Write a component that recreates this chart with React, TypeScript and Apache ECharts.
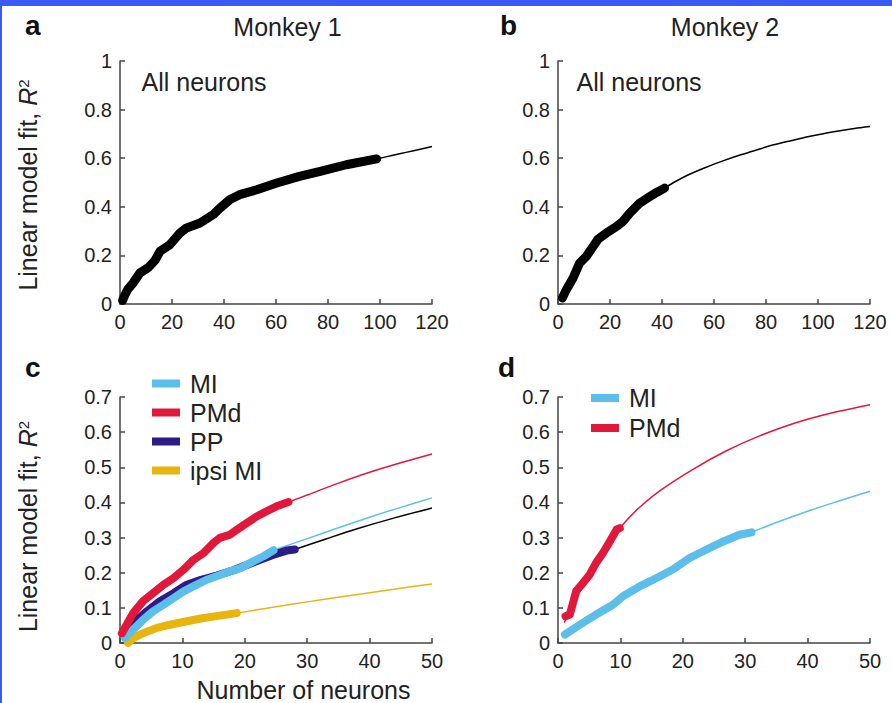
import React, { useEffect, useRef } from 'react';
import * as echarts from 'echarts';

const FONT = '"Liberation Sans", Arial, Helvetica, sans-serif';
const TEXT = '#222222';
const AXIS = '#444444';
const BLUE_FRAME = '#395af5';

const C_MI = '#5cbfeb';
const C_PMD = '#e2183b';
const C_PP = '#2f1b86';
const C_IPSI = '#e8b50e';
const C_BLACK = '#000000';

// Panel a (Monkey 1, all neurons)
const aData: number[][] = [
  [1, 0.015], [2, 0.04], [3, 0.06], [5, 0.086], [7.7, 0.128], [10.9, 0.15], [13.5, 0.18],
  [15.4, 0.217], [19.2, 0.244], [23, 0.292], [25.6, 0.313], [30.8, 0.333], [35.9, 0.368],
  [38.5, 0.395], [42.3, 0.43], [46, 0.45], [52.6, 0.47], [60.3, 0.498], [69, 0.525],
  [77, 0.546], [87, 0.573], [98.7, 0.597],
];
const aFit: number[][] = [[98.7, 0.597], [105, 0.612], [110, 0.624], [115, 0.636], [120, 0.648]];

// Panel b (Monkey 2, all neurons)
const bData: number[][] = [
  [1.7, 0.025], [3.2, 0.059], [5.8, 0.107], [8.3, 0.168], [10.9, 0.196], [13.5, 0.237],
  [15.4, 0.267], [18.6, 0.292], [22.5, 0.319], [25, 0.34], [27.6, 0.374], [31.4, 0.415],
  [35.3, 0.442], [37.9, 0.459], [41, 0.477],
];
const bFit: number[][] = [
  [41, 0.477], [45, 0.503], [50, 0.531], [57, 0.563], [64, 0.591], [70, 0.613], [77, 0.636],
  [83, 0.655], [90, 0.673], [96, 0.688], [102, 0.701], [108.5, 0.713], [114, 0.722], [120, 0.73],
];

// Panel c (Monkey 1, by area)
const cPMd: number[][] = [
  [0.3, 0.028], [1, 0.05], [2.1, 0.085], [3.7, 0.119], [5.3, 0.142], [7, 0.166], [8.6, 0.185],
  [10.2, 0.209], [11.8, 0.237], [13.4, 0.256], [15, 0.285], [16, 0.299], [17.6, 0.308],
  [18.7, 0.322], [20.3, 0.341], [21.9, 0.36], [23.5, 0.375], [25.1, 0.389], [27, 0.401],
];
const cPMdFit: number[][] = [[27, 0.401], [30, 0.421], [35, 0.455], [40, 0.486], [45, 0.513], [50, 0.538]];
const cMI: number[][] = [
  [0.8, 0.014], [2.1, 0.038], [3.7, 0.066], [5.3, 0.09], [7, 0.109], [8.6, 0.128], [10.2, 0.147],
  [12.3, 0.166], [13.9, 0.18], [15.5, 0.19], [17.6, 0.204], [19.3, 0.213], [20.9, 0.228],
  [23, 0.247], [24.6, 0.264],
];
const cMIFit: number[][] = [[24.6, 0.264], [30, 0.297], [35, 0.328], [40, 0.358], [45, 0.386], [50, 0.413]];
const cPP: number[][] = [
  [0.5, 0.028], [2.1, 0.057], [4.3, 0.09], [6.4, 0.119], [8.6, 0.142], [10.7, 0.166], [13, 0.18],
  [15.5, 0.192], [18.2, 0.207], [21.4, 0.23], [24.6, 0.251], [26.7, 0.263], [28, 0.266],
];
const cPPFit: number[][] = [[28, 0.266], [33, 0.296], [38, 0.325], [44, 0.356], [50, 0.384]];
const cIpsi: number[][] = [
  [1.3, 0.0], [2.1, 0.014], [3.7, 0.028], [5.9, 0.043], [8, 0.052], [10.7, 0.062],
  [13.4, 0.071], [16, 0.078], [18.7, 0.085],
];
const cIpsiFit: number[][] = [
  [18.7, 0.085], [25, 0.103], [30, 0.117], [35, 0.13], [40, 0.143], [45, 0.156], [50, 0.168],
];

// Panel d (Monkey 2, by area)
const dPMd: number[][] = [
  [1.2, 0.076], [1.9, 0.081], [2.4, 0.114], [2.9, 0.147], [4, 0.171], [5.1, 0.195], [6.1, 0.228],
  [7.2, 0.256], [8.3, 0.289], [9.4, 0.323], [9.9, 0.327],
];
const dPMdFit: number[][] = [
  [1, 0.058], [1.5, 0.075], [3, 0.13], [6, 0.225], [9, 0.305], [10.4, 0.337], [13, 0.385],
  [16.3, 0.433], [21.7, 0.495], [27, 0.547], [32.4, 0.59], [38, 0.626], [44, 0.655], [50, 0.678],
];
const dMI: number[][] = [
  [1.1, 0.024], [3.5, 0.052], [6.1, 0.081], [8.8, 0.109], [10.4, 0.133], [13.1, 0.161],
  [15.8, 0.185], [18.4, 0.209], [21.1, 0.242], [23.8, 0.266], [26.5, 0.289], [29.1, 0.308], [31, 0.315],
];
const dMIFit: number[][] = [[31, 0.315], [35, 0.343], [40, 0.375], [45, 0.404], [50, 0.432]];

const legendC = ['MI', 'PMd', 'PP', 'ipsi MI'];
const legendD = ['MI', 'PMd'];

const xAxisDef = (gridIndex: number, max: number, interval: number) => ({
  type: 'value',
  gridIndex,
  min: 0,
  max,
  interval,
  axisLine: { show: true, onZero: false, lineStyle: { color: AXIS, width: 1.5 } },
  axisTick: { show: true, inside: true, length: 5, lineStyle: { color: AXIS, width: 1.5 } },
  axisLabel: { color: TEXT, fontSize: 20, fontFamily: FONT, margin: 8 },
  splitLine: { show: false },
});

const yAxisDef = (gridIndex: number, max: number, interval: number) => ({
  type: 'value',
  gridIndex,
  min: 0,
  max,
  interval,
  axisLine: { show: true, onZero: false, lineStyle: { color: AXIS, width: 1.5 } },
  axisTick: { show: true, inside: true, length: 5, lineStyle: { color: AXIS, width: 1.5 } },
  axisLabel: { color: TEXT, fontSize: 20, fontFamily: FONT, margin: 8 },
  splitLine: { show: false },
});

const thick = (name: string, data: number[][], color: string, width: number, idx: number, z: number) => ({
  type: 'line',
  name,
  data,
  xAxisIndex: idx,
  yAxisIndex: idx,
  symbol: 'none',
  showSymbol: false,
  clip: false,
  color,
  itemStyle: { color },
  lineStyle: { color, width, cap: 'round', join: 'round' },
  z,
  silent: true,
});

const thin = (name: string, data: number[][], color: string, idx: number, z: number) => ({
  type: 'line',
  name,
  data,
  xAxisIndex: idx,
  yAxisIndex: idx,
  symbol: 'none',
  showSymbol: false,
  smooth: 0.3,
  clip: false,
  color,
  itemStyle: { color },
  lineStyle: { color, width: 1.5 },
  z,
  silent: true,
});

const txt = (x: number, y: number, text: string, extra: Record<string, unknown> = {}) => ({
  type: 'text',
  x,
  y,
  silent: true,
  style: {
    text,
    fontFamily: FONT,
    fontSize: 25,
    fill: TEXT,
    align: 'center',
    verticalAlign: 'middle',
    ...extra,
  },
});

const yName = (x: number, y: number) => ({
  type: 'text',
  x,
  y,
  rotation: Math.PI / 2,
  silent: true,
  style: {
    text: 'Linear model fit, {i|R}{s|2}',
    fontFamily: FONT,
    fontSize: 25,
    fill: TEXT,
    align: 'center',
    verticalAlign: 'middle',
    rich: {
      i: { fontStyle: 'italic', fontSize: 25, fontFamily: FONT, fill: TEXT },
      s: { fontSize: 15, fontFamily: FONT, fill: TEXT, verticalAlign: 'top', lineHeight: 15 },
    },
  },
});

const legendDef = (data: string[], left: number, top: number, lineHeight: number) => ({
  data,
  orient: 'vertical',
  left,
  top,
  padding: 0,
  itemGap: 0,
  itemWidth: 28,
  itemHeight: 8,
  icon: 'rect',
  selectedMode: false,
  textStyle: {
    color: TEXT,
    fontSize: 25,
    fontFamily: FONT,
    lineHeight,
    padding: [0, 0, 0, 5],
  },
});

export default function App() {
  const ref = useRef<HTMLDivElement>(null);

  useEffect(() => {
    if (!ref.current) return;
    const chart = echarts.init(ref.current, null, { renderer: 'svg' });
    const option = {
      animation: false,
      backgroundColor: '#ffffff',
      textStyle: { fontFamily: FONT },
      grid: [
        { left: 120, top: 61, width: 312, height: 243 },
        { left: 558, top: 61, width: 312, height: 243 },
        { left: 120, top: 397, width: 312, height: 246 },
        { left: 558, top: 397, width: 312, height: 246 },
      ],
      xAxis: [xAxisDef(0, 120, 20), xAxisDef(1, 120, 20), xAxisDef(2, 50, 10), xAxisDef(3, 50, 10)],
      yAxis: [yAxisDef(0, 1, 0.2), yAxisDef(1, 1, 0.2), yAxisDef(2, 0.7, 0.1), yAxisDef(3, 0.7, 0.1)],
      legend: [legendDef(legendC, 152, 369, 29), legendDef(legendD, 591, 383, 30)],
      series: [
        thin('fit a', aFit, C_BLACK, 0, 2),
        thick('all a', aData, C_BLACK, 9, 0, 3),
        thin('fit b', bFit, C_BLACK, 1, 2),
        thick('all b', bData, C_BLACK, 9, 1, 3),
        thin('ipsi MI fit', cIpsiFit, C_IPSI, 2, 2),
        thin('PP fit', cPPFit, C_BLACK, 2, 2),
        thin('MI fit c', cMIFit, C_MI, 2, 2),
        thin('PMd fit c', cPMdFit, C_PMD, 2, 2),
        thick('ipsi MI', cIpsi, C_IPSI, 8, 2, 3),
        thick('PP', cPP, C_PP, 8, 2, 4),
        thick('MI', cMI, C_MI, 8, 2, 5),
        thick('PMd', cPMd, C_PMD, 8, 2, 6),
        thin('MI fit d', dMIFit, C_MI, 3, 2),
        thin('PMd fit d', dPMdFit, C_PMD, 3, 2),
        thick('MI', dMI, C_MI, 8, 3, 5),
        thick('PMd', dPMd, C_PMD, 8, 3, 6),
      ],
      graphic: [
        { type: 'rect', silent: true, shape: { x: 0, y: 0, width: 892, height: 6 }, style: { fill: BLUE_FRAME } },
        { type: 'rect', silent: true, shape: { x: 0, y: 0, width: 2, height: 703 }, style: { fill: BLUE_FRAME } },
        txt(25, 25.5, 'a', { fontWeight: 'bold', fontSize: 28, align: 'left', fill: '#111' }),
        txt(500, 25.5, 'b', { fontWeight: 'bold', fontSize: 28, align: 'left', fill: '#111' }),
        txt(25, 367, 'c', { fontWeight: 'bold', fontSize: 28, align: 'left', fill: '#111' }),
        txt(498, 367, 'd', { fontWeight: 'bold', fontSize: 28, align: 'left', fill: '#111' }),
        txt(287.5, 26.5, 'Monkey 1'),
        txt(725, 26.5, 'Monkey 2'),
        txt(141.5, 82, 'All neurons', { align: 'left' }),
        txt(576.5, 82, 'All neurons', { align: 'left' }),
        yName(28, 185),
        yName(28, 526.5),
        txt(303.5, 690, 'Number of neurons'),
      ],
    };
    chart.setOption(option as any);
    return () => chart.dispose();
  }, []);

  return (
    <div
      ref={ref}
      style={{ position: 'absolute', left: 0, top: 0, width: 892, height: 703, background: '#ffffff' }}
    />
  );
}
